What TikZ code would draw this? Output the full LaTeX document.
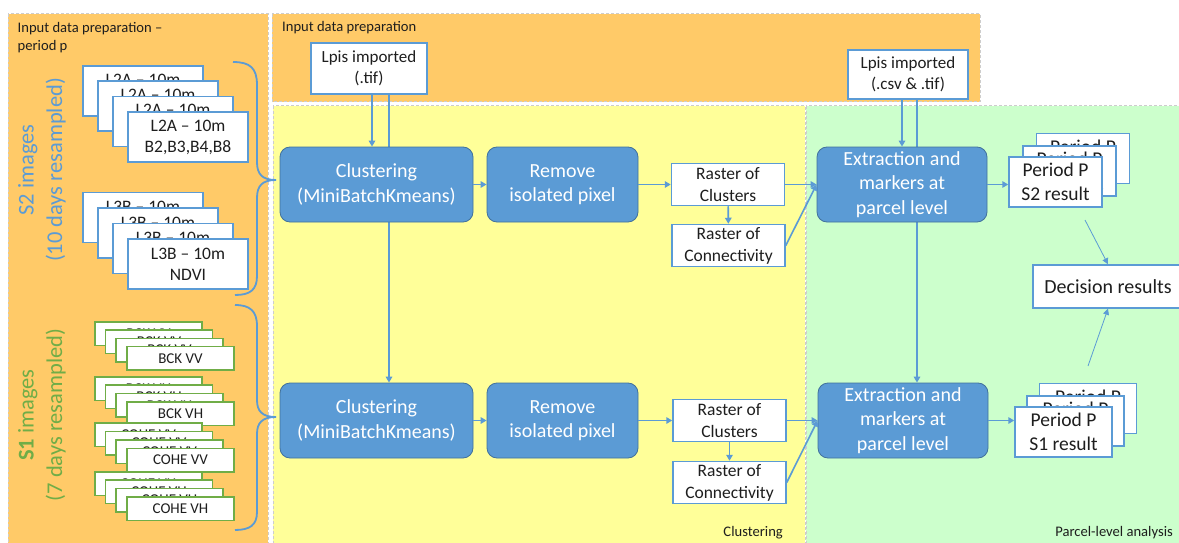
\documentclass[tikz,border=0pt]{standalone}
\usepackage{fontspec}
\setmainfont{Carlito}
\usetikzlibrary{arrows.meta,calc}
\definecolor{orangebg}{RGB}{255,202,104}
\definecolor{yellowbg}{RGB}{255,255,153}
\definecolor{greenbg}{RGB}{204,255,204}
\definecolor{myblue}{RGB}{91,155,213}
\definecolor{blueborder}{RGB}{65,113,156}
\definecolor{mygreen}{RGB}{112,173,71}
\definecolor{panelborder}{RGB}{205,205,205}
\definecolor{txt}{RGB}{30,30,30}
\pgfdeclarelayer{bg}
\pgfdeclarelayer{lines}
\pgfsetlayers{bg,lines,main}
\begin{document}
\begin{tikzpicture}[x=1pt,y=-1pt,
  panel/.style={draw=panelborder, dash pattern=on 3pt off 2pt, line width=1pt},
  title/.style={inner sep=0pt, text=txt, font=\fontsize{14.6}{18}\selectfont, align=left},
  bluebox/.style={rectangle, rounded corners=10pt, fill=myblue, draw=blueborder, line width=0.8pt,
    text=white, align=center, inner sep=0pt, font=\fontsize{20}{24.5}\selectfont},
  wbox/.style={rectangle, fill=white, draw=myblue, line width=1.5pt, align=center, inner sep=0pt, text=txt},
  gbox/.style={rectangle, fill=white, draw=mygreen, line width=1.5pt, align=center, inner sep=0pt, text=txt,
    minimum width=107pt, minimum height=23.5pt, font=\fontsize{15}{18}\selectfont},
  s2box/.style={wbox, minimum width=120pt, minimum height=50pt, font=\fontsize{17.5}{21}\selectfont},
  rbox/.style={wbox, minimum width=113pt, minimum height=42pt, font=\fontsize{17.5}{22}\selectfont},
  pbox/.style={wbox, minimum height=50pt, font=\fontsize{19.5}{24}\selectfont},
  sidelab/.style={rotate=90, align=center, inner sep=0pt, font=\fontsize{22.5}{28.5}\selectfont},
  arr/.style={draw=myblue, line width=1.6pt, -{Triangle[length=6pt,width=6.5pt]}},
  thinarr/.style={draw=myblue, line width=0.8pt, -{Triangle[length=6pt,width=6pt]}},
  brace/.style={draw=myblue, line width=1.8pt}
]
\useasboundingbox (0,0) rectangle (1179,543);
\begin{pgfonlayer}{bg}
  \fill[white] (0,0) rectangle (1179,543);
  \draw[panel, fill=orangebg] (8,14) rectangle (268,547);
  \draw[panel, fill=orangebg] (272,14) rectangle (980,102);
  \draw[panel, fill=yellowbg] (273,106) rectangle (805,547);
  \draw[panel, fill=greenbg] (806,106) rectangle (1183,547);
\end{pgfonlayer}

% titles
\node[title, anchor=north west] (tleft) at (17.5,22) {Input data preparation –\\period p};
\node[title, anchor=base west] (tmid) at (282,32) {Input data preparation};
\node[title, anchor=base east] (tclu) at (783,536) {Clustering};
\node[title, anchor=base east] (tpar) at (1173,536) {Parcel-level analysis};

% side labels
\node[sidelab, text=myblue] (s2lab) at (42,170) {S2 images\\(10 days resampled)};
\node[sidelab, text=mygreen] (s1lab) at (42,415) {\textbf{S1} images\\(7 days resampled)};

% S2 stacks
\foreach \i/\x/\y in {1/143/91, 2/158/106, 3/173/121.5, 4/188/137}
  \node[s2box] (l2a\i) at (\x,\y) {L2A – 10m\\B2,B3,B4,B8};
\foreach \i/\x/\y in {1/143/217.5, 2/158/233, 3/173/248.5, 4/188/264}
  \node[s2box] (l3b\i) at (\x,\y) {L3B – 10m\\NDVI};

% S1 stacks
\foreach \i/\x/\y in {1/148.5/333.5, 2/159/341.8, 3/169.5/350.1, 4/180.5/358.4}
  \node[gbox] (bvv\i) at (\x,\y) {BCK VV};
\foreach \i/\x/\y in {1/148.5/388.5, 2/159/396.8, 3/169.5/405.2, 4/180.5/413.5}
  \node[gbox] (bvh\i) at (\x,\y) {BCK VH};
\foreach \i/\x/\y in {1/148.5/434.5, 2/159/443, 3/169.5/451.5, 4/180.5/460}
  \node[gbox] (cvv\i) at (\x,\y) {COHE VV};
\foreach \i/\x/\y in {1/148.5/483.5, 2/159/491.8, 3/169.5/500.1, 4/180.5/508.5}
  \node[gbox] (cvh\i) at (\x,\y) {COHE VH};

% braces
\draw[brace] (233,62) .. controls (250,62) and (257,68) .. (257,85) -- (257,162)
  .. controls (257,174) and (262,180) .. (276,180)
  .. controls (262,180) and (257,186) .. (257,198) -- (257,276)
  .. controls (257,290) and (250,295) .. (235,295);
\draw[brace] (235,305) .. controls (250,305) and (257,311) .. (257,326) -- (257,400)
  .. controls (257,411) and (262,417) .. (276,417)
  .. controls (262,417) and (257,423) .. (257,434) -- (257,512)
  .. controls (257,525) and (250,530) .. (235,530);

% inputs
\node[wbox, minimum width=116pt, minimum height=51pt, font=\fontsize{17}{20.5}\selectfont] (lpis1) at (369,68.5) {Lpis imported\\(.tif)};
\node[wbox, minimum width=120pt, minimum height=49pt, font=\fontsize{17}{20.5}\selectfont] (lpis2) at (908,74.5) {Lpis imported\\(.csv \& .tif)};

% processing boxes
\node[bluebox, minimum width=193pt, minimum height=75pt] (clus1) at (376.5,184.5) {Clustering\\(MiniBatchKmeans)};
\node[bluebox, minimum width=151pt, minimum height=75pt] (rem1) at (562.5,184.5) {Remove\\isolated pixel};
\node[bluebox, minimum width=193pt, minimum height=75pt] (clus2) at (376.5,420.5) {Clustering\\(MiniBatchKmeans)};
\node[bluebox, minimum width=151pt, minimum height=75pt] (rem2) at (562.5,420.5) {Remove\\isolated pixel};
\node[bluebox, minimum width=170pt, minimum height=75pt] (ext1) at (902,184.5) {Extraction and\\markers at\\parcel level};
\node[bluebox, minimum width=170pt, minimum height=75pt] (ext2) at (903,420.5) {Extraction and\\markers at\\parcel level};

\node[rbox] (rc1) at (728,184.5) {Raster of\\Clusters};
\node[rbox] (rn1) at (728.5,245.5) {Raster of\\Connectivity};
\node[rbox] (rc2) at (729.5,420.5) {Raster of\\Clusters};
\node[rbox] (rn2) at (729.5,482.5) {Raster of\\Connectivity};

% results
\node[pbox, minimum width=93pt] (ps2a) at (1083,158.5) {Period P\\S2 result};
\node[pbox, minimum width=93pt] (ps2b) at (1069.5,171) {Period P\\S2 result};
\node[pbox, minimum width=93pt] (ps2c) at (1055.5,182) {Period P\\S2 result};
\node[pbox, minimum width=97pt] (ps1a) at (1088,408.5) {Period P\\S1 result};
\node[pbox, minimum width=97pt] (ps1b) at (1075.5,421) {Period P\\S1 result};
\node[pbox, minimum width=97pt] (ps1c) at (1063.5,432) {Period P\\S1 result};
\node[wbox, minimum width=150pt, minimum height=43pt, font=\fontsize{20}{24}\selectfont] (dec) at (1108,286.5) {Decision results};

\coordinate (d1s) at (1085,220);
\coordinate (d2s) at (1088,366);

% connectors
\begin{pgfonlayer}{lines}
  \draw[arr] ([xshift=3pt]lpis1.south) -- ([xshift=3pt]lpis1.south |- clus1.north);
  \draw[arr] ([xshift=20pt]lpis1.south) -- ([xshift=20pt]lpis1.south |- clus2.north);
  \draw[arr] ([xshift=-6pt]lpis2.south) -- ([xshift=-6pt]lpis2.south |- ext1.north);
  \draw[arr] ([xshift=9pt]lpis2.south) -- ([xshift=9pt]lpis2.south |- ext2.north);
\end{pgfonlayer}
\draw[arr] (clus1) -- (rem1);
\draw[arr] (rem1) -- (rc1);
\draw[arr] (rc1) -- (ext1);
\draw[arr] (rc1) -- (rn1);
\draw[arr] (rn1.east) -- (ext1.west);
\draw[arr] (ext1.east) -- (ext1.east -| ps2c.west);
\draw[arr] (clus2) -- (rem2);
\draw[arr] (rem2) -- (rc2);
\draw[arr] (rc2) -- (ext2);
\draw[arr] (rc2) -- (rn2);
\draw[arr] (rn2.east) -- (ext2.west);
\draw[arr] (ext2.east) -- (ext2.east -| ps1c.west);
\draw[thinarr] (d1s) -- (dec.north);
\draw[thinarr] (d2s) -- (dec.south);
\end{tikzpicture}
\end{document}
